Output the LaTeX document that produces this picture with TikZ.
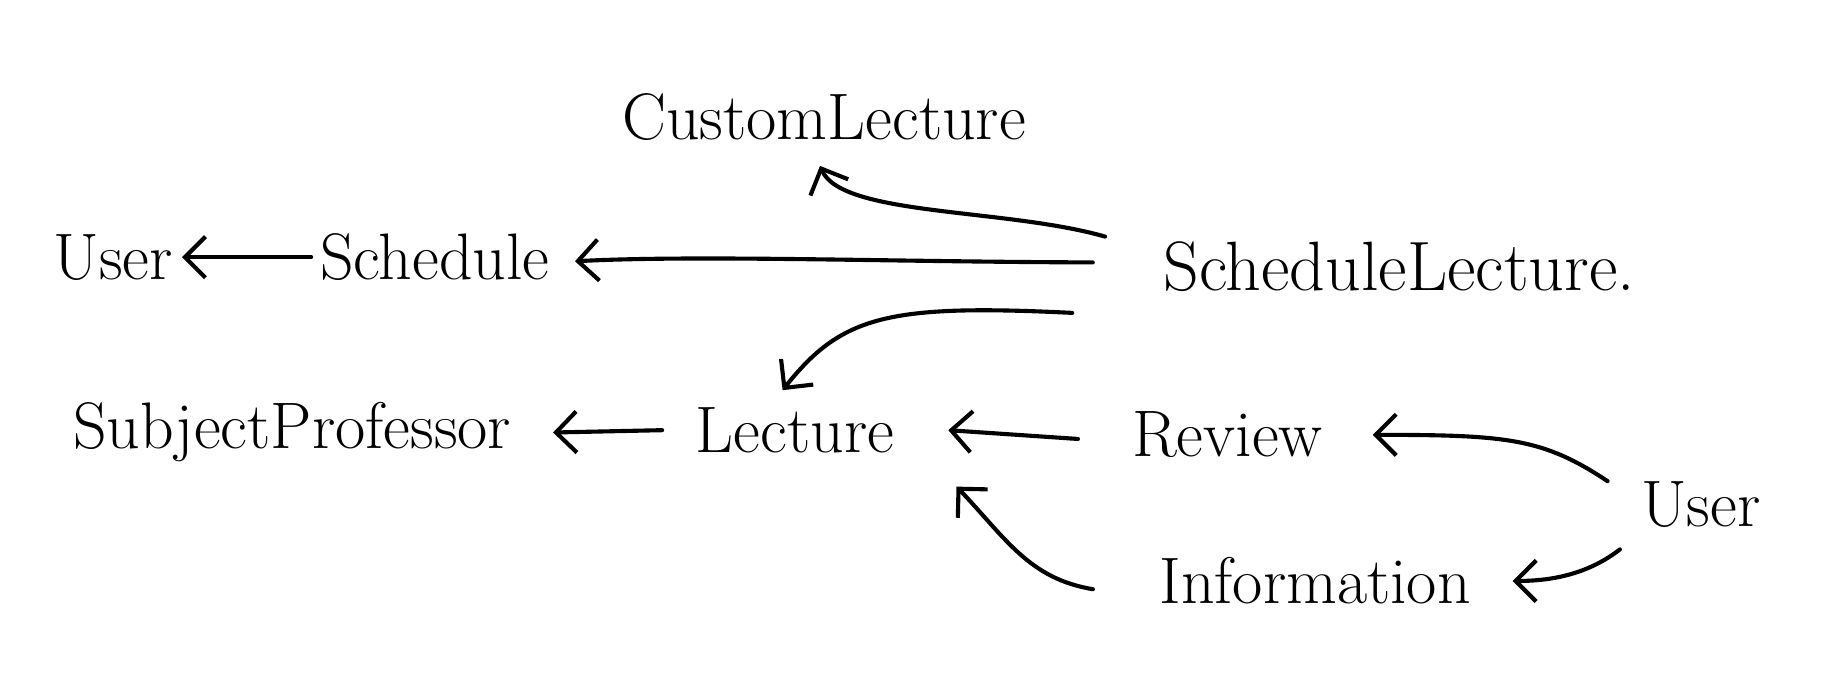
\documentclass[tikz,border=0pt]{standalone}
\usepackage{xcolor}
\usepackage{tikz}
\usetikzlibrary{arrows.meta}

\begin{document}
\begin{tikzpicture}[
            x=0.01cm, y=-0.01cm,
            word/.style={font=\fontsize{16}{19}\selectfont, inner sep=2pt},
            arr/.style={-{Straight Barb[length=5pt, width=10pt]}, line width=1pt, line cap=round}
        ]
            \useasboundingbox (0,0) rectangle (1568,580);
            % words
            \node[word] (cl) at (705,100) {CustomLecture};
            \node[word] (user) at (97,220) {User};
            \node[word] (sched) at (372,220) {Schedule};
            \node[word, font=\fontsize{17}{20}\selectfont] (schedlec) at (1197,228) {ScheduleLecture.};
            \node[word] (subjprof) at (250,370) {SubjectProfessor};
            \node[word] (lec) at (680,368) {Lecture};
            \node[word] (rev) at (1050,372) {Review};
            \node[word] (user2) at (1455,432) {User};
            \node[word] (info) at (1125,497) {Information};
            % arrows
            \draw[arr] (sched.west) -- (user.east);
            \draw[arr] ([xshift=-15pt,yshift=1pt]schedlec.west) .. controls (760,224) and (600,218) .. ([xshift=4pt,yshift=-1pt]sched.east);
            \draw[arr] ([xshift=-12pt,yshift=-1pt]schedlec.north west) .. controls (860,178) and (720,185) .. ([xshift=-1pt,yshift=-4pt]cl.south);
            \draw[arr] ([xshift=-20pt,yshift=-3pt]schedlec.south west) .. controls (760,260) and (720,270) .. ([xshift=-3pt,yshift=2pt]lec.north);
            \draw[arr] ([xshift=-6pt]lec.west) -- ([xshift=8pt]subjprof.east);
            \draw[arr] ([xshift=-11pt,yshift=-1pt]rev.west) -- ([xshift=11pt]lec.east);
            \draw[arr] ([xshift=-6pt,yshift=-2pt]user2.north west) .. controls (1320,375) and (1290,372) .. ([xshift=10pt]rev.east);
            \draw[arr] ([xshift=-3pt,yshift=-3pt]user2.south west) .. controls (1360,490) and (1330,497) .. ([xshift=8pt]info.east);
            \draw[arr] ([xshift=-14pt,yshift=-2pt]info.west) .. controls (880,495) and (860,460) .. ([xshift=13pt,yshift=-6pt]lec.south east);
        \end{tikzpicture}
\end{document}
